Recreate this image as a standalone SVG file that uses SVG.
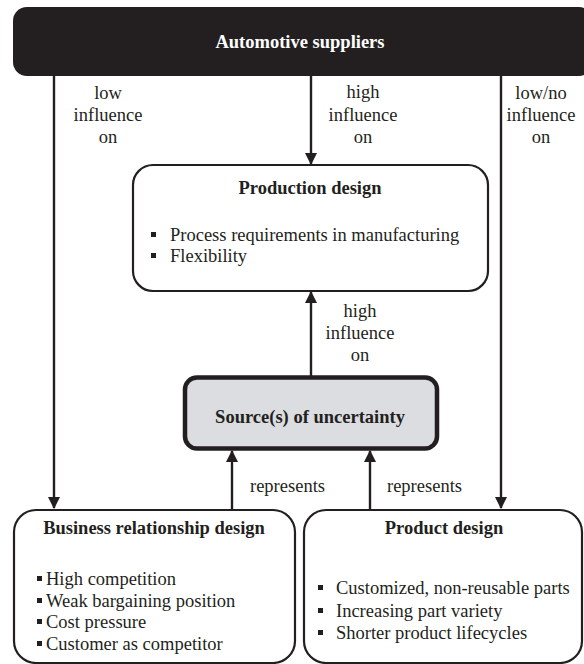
<svg xmlns="http://www.w3.org/2000/svg" width="584" height="664" viewBox="0 0 584 664">
<defs>
<style>
text{font-family:'Liberation Serif','Times New Roman',serif;font-size:18.5px;fill:#231f20}
.b{font-weight:bold}
.c{text-anchor:middle}
.w{fill:#ffffff}
.box{fill:#ffffff;stroke:#231f20;stroke-width:2.2}
.unc{fill:#dcdde0;stroke:#231f20;stroke-width:4.5}
.ln{stroke:#231f20;stroke-width:2.4;fill:none}
.sq{fill:#231f20}
</style>
<marker id="ah" viewBox="0 0 12 12" refX="11" refY="6" markerWidth="12" markerHeight="12" markerUnits="userSpaceOnUse" orient="auto">
<path d="M0,0 L12,6 L0,12 Z" fill="#231f20"/>
</marker>
</defs>
<rect width="584" height="664" fill="#ffffff"/>
<g id="connectors">
<line class="ln" x1="54" y1="76" x2="54" y2="508" marker-end="url(#ah)"/>
<line class="ln" x1="311" y1="76" x2="311" y2="164" marker-end="url(#ah)"/>
<line class="ln" x1="501" y1="76" x2="501" y2="508" marker-end="url(#ah)"/>
<line class="ln" x1="311" y1="376" x2="311" y2="292" marker-end="url(#ah)"/>
<line class="ln" x1="232" y1="509" x2="232" y2="451" marker-end="url(#ah)"/>
<line class="ln" x1="370" y1="509" x2="370" y2="451" marker-end="url(#ah)"/>
<text class="c" x="108" y="99">low</text>
<text class="c" x="108" y="121">influence</text>
<text class="c" x="108" y="143">on</text>
<text class="c" x="363" y="98">high</text>
<text class="c" x="363" y="121">influence</text>
<text class="c" x="363" y="143">on</text>
<text class="c" x="541" y="99">low/no</text>
<text class="c" x="541" y="121">influence</text>
<text class="c" x="541" y="143">on</text>
<text class="c" x="360" y="317">high</text>
<text class="c" x="360" y="339">influence</text>
<text class="c" x="360" y="361">on</text>
<text x="250" y="492">represents</text>
<text x="387" y="492">represents</text>
</g>
<g id="automotive-suppliers">
<rect x="13" y="7" width="580" height="69" rx="14" fill="#231f20"/>
<text class="b c w" x="300" y="48">Automotive suppliers</text>
</g>
<g id="production-design">
<rect class="box" x="133" y="165" width="355" height="126" rx="20"/>
<text class="b c" x="310" y="194">Production design</text>
<rect class="sq" x="151" y="232" width="5" height="5"/>
<text x="170" y="241">Process requirements in manufacturing</text>
<rect class="sq" x="151" y="253" width="5" height="5"/>
<text x="170" y="262">Flexibility</text>
</g>
<g id="source-of-uncertainty">
<rect class="unc" x="185" y="377.5" width="252" height="71" rx="12"/>
<text class="b c" x="310" y="423">Source(s) of uncertainty</text>
</g>
<g id="business-relationship-design">
<rect class="box" x="14" y="510" width="281" height="153" rx="22"/>
<text class="b c" x="154" y="534">Business relationship design</text>
<rect class="sq" x="37" y="576" width="5" height="5"/>
<text x="46" y="585">High competition</text>
<rect class="sq" x="37" y="598" width="5" height="5"/>
<text x="46" y="607">Weak bargaining position</text>
<rect class="sq" x="37" y="619" width="5" height="5"/>
<text x="46" y="628">Cost pressure</text>
<rect class="sq" x="37" y="641" width="5" height="5"/>
<text x="46" y="650">Customer as competitor</text>
</g>
<g id="product-design">
<rect class="box" x="304" y="510" width="278" height="153" rx="22"/>
<text class="b c" x="444" y="534">Product design</text>
<rect class="sq" x="318" y="585" width="5" height="5"/>
<text x="336" y="594">Customized, non-reusable parts</text>
<rect class="sq" x="318" y="608" width="5" height="5"/>
<text x="336" y="617">Increasing part variety</text>
<rect class="sq" x="318" y="630" width="5" height="5"/>
<text x="336" y="639">Shorter product lifecycles</text>
</g>
</svg>
